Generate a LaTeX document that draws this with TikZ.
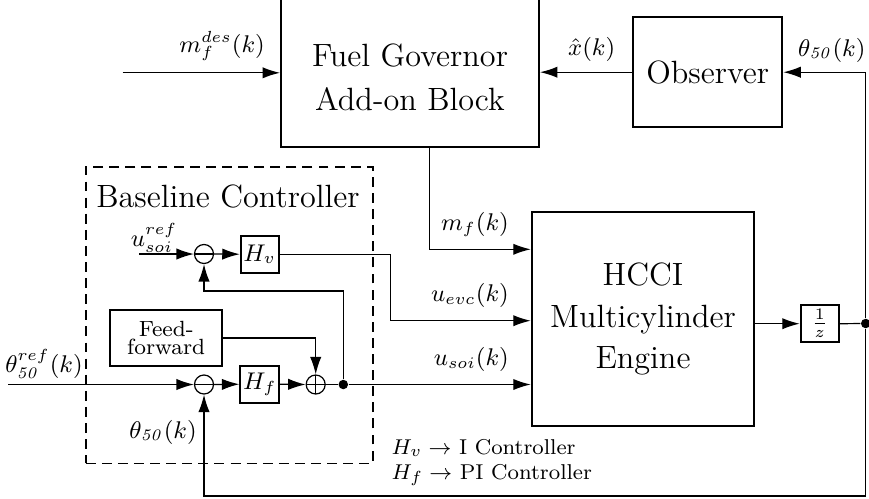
\documentclass[tikz,border=0pt]{standalone}
\usetikzlibrary{arrows.meta,calc}
\begin{document}
\def\PX{0.3727pt}
\begin{tikzpicture}[x=0.3727pt,y=-0.3727pt,
  blk/.style={draw, line width=0.75pt, inner sep=0pt},
  conn/.style={line width=0.45pt},
  arr/.style={conn, -{Latex[length=6.5pt,width=4.2pt]}},
  bigtxt/.style={font=\fontsize{12}{16.4}\selectfont, align=center},
  lbl/.style={font=\fontsize{9}{11}\selectfont, inner sep=1pt},
  sumnode/.style={circle, draw, line width=0.45pt, minimum size=19*\PX, inner sep=0pt},
  minus/.style={sumnode, path picture={\draw[line width=0.45pt] (path picture bounding box.west) -- (path picture bounding box.east);}},
  plus/.style={sumnode, path picture={\draw[line width=0.45pt] (path picture bounding box.west) -- (path picture bounding box.east) (path picture bounding box.north) -- (path picture bounding box.south);}},
  dot/.style={circle, fill, inner sep=0pt, minimum size=9.5*\PX}
]
\useasboundingbox (0,0) rectangle (869,498);
\clip (0,0) rectangle (869,498);

% main blocks
\node[blk, minimum width=258*\PX, minimum height=167*\PX] (fg) at (410,63.3) {};
\node[bigtxt] (fgt) at (410,77) {Fuel Governor\\Add-on Block};
\node[blk, bigtxt, minimum width=149*\PX, minimum height=110*\PX] (obs) at (707.8,72.2) {Observer};
\node[blk, align=center, font=\fontsize{12}{15.6}\selectfont, minimum width=222.6*\PX, minimum height=213.4*\PX] (eng) at (643,319) {HCCI\\Multicylinder\\Engine};
\node[blk, lbl, minimum width=38*\PX, minimum height=37.3*\PX] (dly) at (819.7,323.7) {$\frac{1}{z}$};

% baseline controller
\node[draw, line width=0.6pt, dash pattern=on 3.7pt off 2.3pt, minimum width=287*\PX, minimum height=296.6*\PX, inner sep=0pt] (bc) at (229.2,315) {};
\node[bigtxt] (bct) at (228,196) {Baseline Controller};
\node[minus] (s1) at (204,254) {};
\node[minus] (s2) at (204,384.5) {};
\node[plus] (s3) at (315.7,384.5) {};
\node[blk, lbl, minimum width=38*\PX, minimum height=37*\PX] (hv) at (259.7,254.2) {$H_v$};
\node[blk, lbl, minimum width=38*\PX, minimum height=37*\PX] (hf) at (259.7,384.2) {$H_f$};
\node[blk, align=center, font=\fontsize{8.2}{6.9}\selectfont, minimum width=112.3*\PX, minimum height=55.7*\PX] (ff) at (166.2,337.9) {Feed-\\forward};
\node[dot] (j1) at (343.3,384.5) {};
\node[dot] (j2) at (865.7,323.5) {};

% coordinates
\coordinate (mdesin) at (122.7,72.8);
\coordinate (thin) at (8,384.5);
\coordinate (usin) at (139.3,254);
\coordinate (br) at (865.7,496);
\coordinate (mfc) at (429.3,249.3);
\coordinate (ev1) at (390.7,254.2);
\coordinate (ev2) at (390.7,320.7);
\coordinate (fb) at (343.3,291);

% connectors
\draw[arr] (mdesin) -- (mdesin -| fg.west);
\draw[arr] (obs.west) -- (obs.west -| fg.east);
\draw[arr] (j2) -- (j2 |- obs.east) -- (obs.east);
\draw[arr] (j2) -- (br) -- (br -| s2) -- (s2.south);
\draw[arr] (dly.west -| eng.east) -- (dly.west);
\draw[conn] (dly.east) -- (j2);
\draw[arr] (mfc |- fg.south) -- (mfc) -- (mfc -| eng.west);
\draw[arr] (hv.east) -- (ev1) -- (ev2) -- (ev2 -| eng.west);
\draw[arr] (j1) -- (j1 -| eng.west);
\draw[arr] (thin) -- (s2.west);
\draw[arr] (usin) -- (s1.west);
\draw[arr] (s1.east) -- (hv.west);
\draw[arr] (s2.east) -- (hf.west);
\draw[arr] (hf.east) -- (s3.west);
\draw[conn] (s3.east) -- (j1);
\draw[arr] (j1) -- (fb) -- (fb -| s1) -- (s1.south);
\draw[arr] (ff.east) -- (ff.east -| s3) -- (s3.north);

% labels
\node[lbl, anchor=south east] (lmdes) at (268,64) {$m_f^{des}(k)$};
\node[lbl] (lxh) at (591.7,49) {$\hat{x}(k)$};
\node[lbl] (lth1) at (831.7,50) {$\theta_{\mathit{50}}(k)$};
\node[lbl, anchor=south east] (lmf) at (512,240) {$m_f(k)$};
\node[lbl, anchor=south east] (luevc) at (512,311) {$u_{evc}(k)$};
\node[lbl, anchor=south east] (lusoi) at (512,375) {$u_{soi}(k)$};
\node[lbl] (lthref) at (44,364) {$\theta_{\mathit{50}}^{ref}(k)$};
\node[lbl] (lth2) at (163,432) {$\theta_{\mathit{50}}(k)$};
\node[lbl] (lusref) at (154,238) {$u_{soi}^{ref}$};
\node[font=\fontsize{8}{9.3}\selectfont, anchor=west, align=left, inner sep=0pt] (note) at (391,462.5) {$H_v \rightarrow$ I Controller\\$H_f \rightarrow$ PI Controller};
\end{tikzpicture}
\end{document}
